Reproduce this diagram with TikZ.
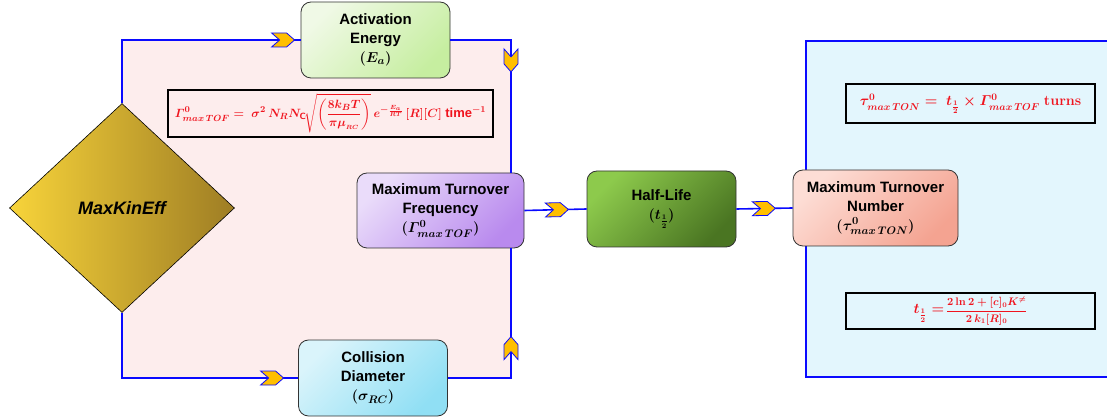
\documentclass[tikz,border=0pt]{standalone}
\usepackage{amsmath,amssymb}
\usepackage[no-math]{fontspec}
\setmainfont{Liberation Sans}
\usetikzlibrary{arrows.meta,calc,positioning,shapes.geometric,decorations.markings}
\definecolor{PinkBack}{HTML}{FDEDED}
\definecolor{SkyBack}{HTML}{E3F6FD}
\definecolor{LinkBlue}{HTML}{0A0AFF}
\definecolor{ChevGold}{HTML}{FFBF00}
\definecolor{FormRed}{HTML}{F0141E}
\definecolor{GoldLight}{HTML}{F8D43A}
\definecolor{GoldDark}{HTML}{9E7D24}
\definecolor{ActA}{HTML}{F0F9E6}
\definecolor{ActB}{HTML}{C6EEA0}
\definecolor{ColA}{HTML}{DAF4FB}
\definecolor{ColB}{HTML}{90DFF4}
\definecolor{TofA}{HTML}{EADCFA}
\definecolor{TofB}{HTML}{B98AEE}
\definecolor{HlA}{HTML}{8DCA4C}
\definecolor{HlB}{HTML}{4A7522}
\definecolor{TonA}{HTML}{FDDDD5}
\definecolor{TonB}{HTML}{F4A391}

\begin{document}
\begin{tikzpicture}[x=1pt,y=-1pt,
    box/.style={draw=black!80, line width=0.8pt, rounded corners=10pt,
      minimum width=149pt, minimum height=76pt, inner sep=2pt,
      align=center, font=\fontsize{15}{19}\selectfont\bfseries\boldmath},
    tint/.style 2 args={top color=#1, bottom color=#2, shading angle=45},
    formbox/.style={draw=black, line width=1.4pt, inner sep=0pt,
      text=FormRed, font=\fontsize{13}{15}\selectfont\bfseries\boldmath},
    link/.style={draw=LinkBlue, line width=1.6pt},
    chev at/.style={postaction={decorate, decoration={markings,
      mark=at position #1 with {\filldraw[fill=ChevGold, draw=LinkBlue, line width=0.8pt]
        (-11.5,-7) -- (3.5,-7) -- (11.5,0) -- (3.5,7) -- (-11.5,7) -- (-3.5,0) -- cycle;}}}}
  ]
  \useasboundingbox (0,0) rectangle (1107,419);

  % shaded areas
  \fill[PinkBack] (122,40) rectangle (511,377);
  \filldraw[fill=SkyBack, draw=LinkBlue, line width=1.6pt] (806,41) rectangle (1112,377);

  % decision
  \node[diamond, draw=black, line width=0.6pt, inner sep=0pt,
    minimum width=225pt, minimum height=209pt,
    left color=GoldLight, right color=GoldDark,
    font=\fontsize{18}{20}\selectfont\bfseries\itshape] (dia) at (122,208) {MaxKinEff};

  % boxes
  \node[box, tint={ActA}{ActB}] (act) at (375.5,40)
    {Activation\\Energy\\$(E_a)$};
  \node[box, tint={ColA}{ColB}] (col) at (373,378)
    {Collision\\Diameter\\$(\sigma_{RC})$};
  \node[box, minimum width=167pt, minimum height=75pt, tint={TofA}{TofB}] (tof) at (440.5,210.5)
    {Maximum Turnover\\Frequency\\$(\varGamma^0_{max\,TOF})$};
  \node[box, tint={HlA}{HlB}] (hl) at (661.5,209)
    {Half-Life\\$(t_{\frac12})$};
  \node[box, minimum width=165pt, tint={TonA}{TonB}] (ton) at (875.5,208)
    {Maximum Turnover\\Number\\$(\tau^0_{max\,TON})$};

  % formulas
  \node[formbox, fill=PinkBack, minimum width=325pt, minimum height=47pt] (rate) at (330.5,113.5)
    {$\varGamma^0_{max\,TOF} =\ \sigma^2\,N_R N_{\mathsf{C}}\!\sqrt{\left(\dfrac{8k_BT}{\pi\mu_{_{RC}}}\right)}\,e^{-\frac{E_a}{RT}}\,[R][C]$ time$^{-1}$};
  \node[formbox, fill=SkyBack, minimum width=249pt, minimum height=39pt,
    font=\fontsize{14.5}{16}\selectfont\bfseries\boldmath] (turns) at (970.5,103.5)
    {$\tau^0_{max\,TON} =\ t_{\frac12}\times\varGamma^0_{max\,TOF}$ $\mathbf{turns}$};
  \node[formbox, fill=SkyBack, minimum width=249pt, minimum height=36pt,
    font=\fontsize{10.5}{13}\selectfont\bfseries\boldmath] (half) at (970.5,311)
    {\mbox{\fontsize{15}{17}\selectfont$t_{\frac12} =$}\,$\displaystyle\frac{2\ln 2+[c]_0K^{\neq}}{2\,k_1[R]_0}$};

  % connectors
  \coordinate (jr) at (511,209);
  \draw[link, chev at=-17.5pt] (dia.north) |- (act.west);
  \draw[link, chev at=81pt] (act.east) -| (jr |- tof.north);
  \draw[link, chev at=-26pt] (dia.south) |- (col.west);
  \draw[link, chev at=93pt] (col.east) -| (jr |- tof.south);
  \draw[link, chev at=32.5pt] (tof.east) -- (hl.west);
  \draw[link, chev at=27.5pt] (hl.east) -- (ton.west);
\end{tikzpicture}
\end{document}
